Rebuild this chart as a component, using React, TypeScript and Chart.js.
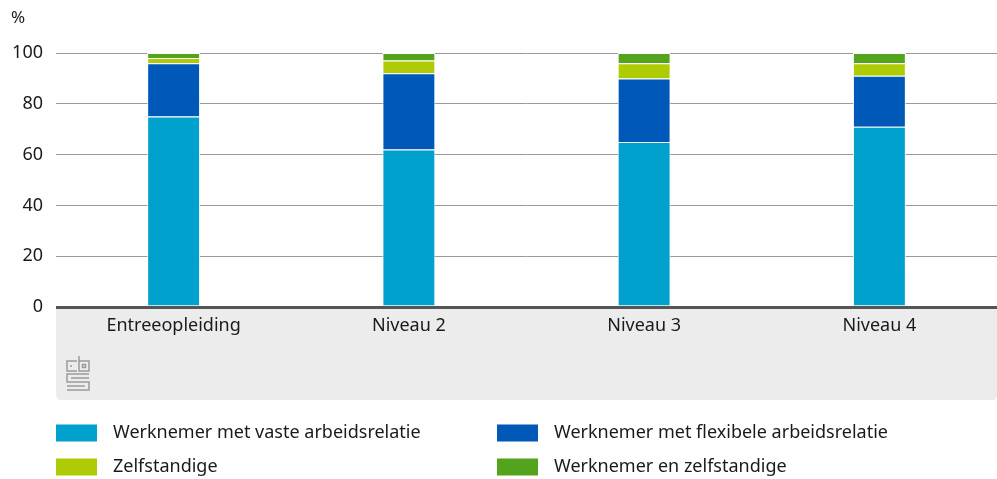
import React, { useEffect, useRef } from "react";
import { Chart, registerables } from "chart.js";

Chart.register(...registerables);

const categories = ["Entreeopleiding", "Niveau 2", "Niveau 3", "Niveau 4"];
const vaste = [75, 62, 65, 71];
const flexibel = [21, 30, 25, 20];
const zelfstandig = [2, 5, 6, 5];
const werknemerEnZelf = [2, 3, 4, 4];
const seriesLabels = [
  "Werknemer met vaste arbeidsrelatie",
  "Werknemer met flexibele arbeidsrelatie",
  "Zelfstandige",
  "Werknemer en zelfstandige",
];
const seriesColors = ["#00a1cd", "#0058b8", "#afcb05", "#53a31d"];
const yTicks = [0, 20, 40, 60, 80, 100];

const FONT = "'Noto Sans', sans-serif";

const decorPlugin = {
  id: "decor",
  beforeDraw(chart: any) {
    const { ctx, chartArea } = chart;
    const left = chartArea.left;
    const right = chartArea.right;
    const top = chartArea.bottom;
    const bottom = 400;
    ctx.save();
    ctx.fillStyle = "#ececec";
    const r = 5;
    ctx.beginPath();
    ctx.moveTo(left, top);
    ctx.lineTo(right, top);
    ctx.lineTo(right, bottom - r);
    ctx.quadraticCurveTo(right, bottom, right - r, bottom);
    ctx.lineTo(left + r, bottom);
    ctx.quadraticCurveTo(left, bottom, left, bottom - r);
    ctx.closePath();
    ctx.fill();

    // cbs logo
    ctx.strokeStyle = "#9a9a9a";
    ctx.lineWidth = 1.5;
    const lx = 67;
    const ly = 356;
    ctx.beginPath();
    ctx.moveTo(lx + 10, ly + 5);
    ctx.lineTo(lx, ly + 5);
    ctx.lineTo(lx, ly + 15);
    ctx.lineTo(lx + 10, ly + 15);
    ctx.moveTo(lx + 4, ly + 9);
    ctx.lineTo(lx + 4, ly + 11);
    ctx.stroke();
    ctx.beginPath();
    ctx.moveTo(lx + 12, ly);
    ctx.lineTo(lx + 12, ly + 15);
    ctx.lineTo(lx + 22, ly + 15);
    ctx.lineTo(lx + 22, ly + 5);
    ctx.lineTo(lx + 12, ly + 5);
    ctx.rect(lx + 15.5, ly + 8.5, 3, 3);
    ctx.stroke();
    ctx.beginPath();
    ctx.moveTo(lx + 22, ly + 18);
    ctx.lineTo(lx, ly + 18);
    ctx.lineTo(lx, ly + 26);
    ctx.lineTo(lx + 22, ly + 26);
    ctx.lineTo(lx + 22, ly + 34);
    ctx.lineTo(lx, ly + 34);
    ctx.moveTo(lx + 22, ly + 22);
    ctx.lineTo(lx + 4, ly + 22);
    ctx.moveTo(lx, ly + 30);
    ctx.lineTo(lx + 18, ly + 30);
    ctx.stroke();

    ctx.fillStyle = "#1a1a1a";
    ctx.font = `17px ${FONT}`;
    ctx.textAlign = "left";
    ctx.textBaseline = "middle";
    ctx.fillText("%", 11, 18);
    ctx.restore();
  },
  afterDraw(chart: any) {
    const { ctx } = chart;
    const ds = chart.data.datasets;
    const cols = [56, 497];
    const rows = [433, 467];
    ctx.save();
    ctx.font = `18px ${FONT}`;
    ctx.textBaseline = "middle";
    ctx.textAlign = "left";
    ds.forEach((d: any, i: number) => {
      const x = cols[i % 2];
      const y = rows[Math.floor(i / 2)];
      ctx.fillStyle = d.backgroundColor;
      ctx.fillRect(x, y - 8.5, 41, 17);
      ctx.fillStyle = "#1a1a1a";
      ctx.fillText(d.label, x + 57, y);
    });
    ctx.restore();
  },
};

export default function App() {
  const ref = useRef<HTMLCanvasElement>(null);
  useEffect(() => {
    document.body.style.margin = "0";
    const values = [vaste, flexibel, zelfstandig, werknemerEnZelf];
    const chart = new Chart(ref.current!, {
      type: "bar",
      data: {
        labels: categories,
        datasets: values.map((v, i) => ({
          label: seriesLabels[i],
          data: v,
          backgroundColor: seriesColors[i],
          borderColor: "#ffffff",
          borderWidth: 1,
          borderSkipped: "start",
          barPercentage: 0.225,
          categoryPercentage: 1,
        })),
      },
      options: {
        animation: false,
        responsive: false,
        maintainAspectRatio: false,
        layout: { padding: { top: 53, right: 0, bottom: 0, left: 0 } },
        plugins: {
          legend: { display: false },
          tooltip: { enabled: false },
        },
        scales: {
          x: {
            stacked: true,
            grid: { display: false, drawTicks: false },
            border: { display: false },
            ticks: {
              color: "#1a1a1a",
              font: { family: FONT, size: 18 },
              padding: 8,
            },
            afterFit(scale: any) {
              scale.height = 172;
            },
          },
          y: {
            stacked: true,
            min: 0,
            max: 100,
            afterBuildTicks(scale: any) {
              scale.ticks = yTicks.map((v) => ({ value: v }));
            },
            afterFit(scale: any) {
              scale.width = 56;
            },
            grid: {
              drawTicks: false,
              color: (c: any) => (c.tick && c.tick.value === 0 ? "#555555" : "#999999"),
              lineWidth: (c: any) => (c.tick && c.tick.value === 0 ? 3 : 1),
            },
            border: { display: false },
            ticks: {
              color: "#1a1a1a",
              font: { family: FONT, size: 18 },
              padding: 13,
            },
          },
        },
      },
      plugins: [decorPlugin],
    });
    return () => chart.destroy();
  }, []);
  return (
    <div style={{ width: 997, height: 479 }}>
      <canvas ref={ref} width={997} height={479} style={{ display: "block" }} />
    </div>
  );
}
